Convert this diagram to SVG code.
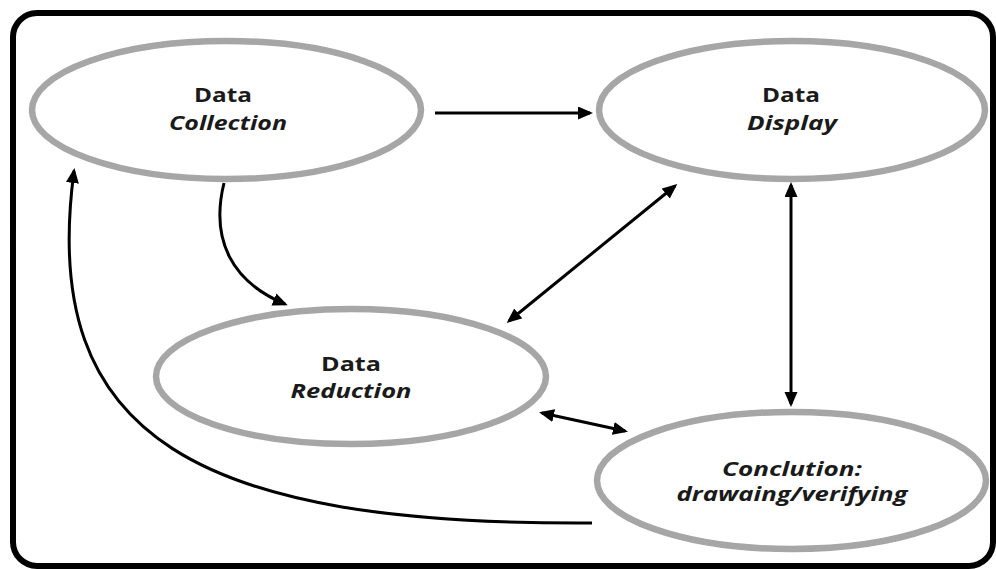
<svg xmlns="http://www.w3.org/2000/svg" width="996" height="569" viewBox="0 0 996 569">
<style>
.bg{fill:#ffffff}
.frame{fill:none;stroke:#000000;stroke-width:6}
.node ellipse{fill:#ffffff;stroke:#a6a6a6;stroke-width:6.5}
.node text{font-family:"Open Sans","Liberation Sans",sans-serif;font-weight:bold;font-size:20px;fill:#1a1a1a;text-anchor:middle}
.node text.it{font-style:italic}
.conn path{fill:none;stroke:#000000;stroke-width:3}
.one{marker-end:url(#ah)}
.two{marker-start:url(#ah);marker-end:url(#ah)}
</style>
<defs>
<marker id="ah" markerUnits="userSpaceOnUse" markerWidth="16" markerHeight="14" refX="12" refY="6.5" orient="auto-start-reverse">
<path d="M0,0 L15,6.5 L0,13 Z" fill="#000000"/>
</marker>
</defs>
<rect class="bg" x="0" y="0" width="996" height="569"/>
<rect class="frame" x="13" y="13" width="980" height="553" rx="24" ry="24"/>
<g id="node-collection" class="node">
<ellipse cx="226.5" cy="110" rx="194.5" ry="69"/>
<text x="223" y="102" textLength="58" lengthAdjust="spacingAndGlyphs">Data</text>
<text class="it" x="228" y="130" textLength="118" lengthAdjust="spacingAndGlyphs">Collection</text>
</g>
<g id="node-display" class="node">
<ellipse cx="792" cy="110" rx="193" ry="69"/>
<text x="791" y="102" textLength="58" lengthAdjust="spacingAndGlyphs">Data</text>
<text class="it" x="792" y="130" textLength="90" lengthAdjust="spacingAndGlyphs">Display</text>
</g>
<g id="node-reduction" class="node">
<ellipse cx="351" cy="376.5" rx="195" ry="67.5"/>
<text x="351" y="371" textLength="60" lengthAdjust="spacingAndGlyphs">Data</text>
<text class="it" x="351" y="398" textLength="121" lengthAdjust="spacingAndGlyphs">Reduction</text>
</g>
<g id="node-conclusion" class="node">
<ellipse cx="791.5" cy="480.5" rx="194.5" ry="68.5"/>
<text class="it" x="792" y="476" textLength="140" lengthAdjust="spacingAndGlyphs">Conclution:</text>
<text class="it" x="792" y="501" textLength="231" lengthAdjust="spacingAndGlyphs">drawaing/verifying</text>
</g>
<g id="connectors" class="conn">
<path class="one" d="M435,113 L590,113"/>
<path class="one" d="M224,183 C210,240 232,282 285,304"/>
<path class="two" d="M675,186 L509,321"/>
<path class="two" d="M791,185 L791,404"/>
<path class="two" d="M542,413 L625,431"/>
<path class="one" d="M592,523 C200,525 38,440 74,171"/>
</g>
</svg>
